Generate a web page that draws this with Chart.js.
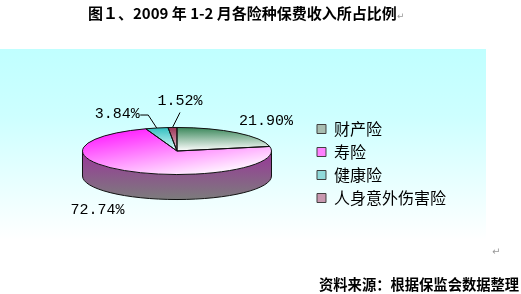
<!DOCTYPE html>
<html><head><meta charset="utf-8">
<script src="https://cdn.jsdelivr.net/npm/chart.js@4.4.0/dist/chart.umd.min.js"></script>
<style>
html,body{margin:0;padding:0;background:#fff;width:521px;height:294px;overflow:hidden;position:relative}
#c{position:absolute;left:0;top:0}
.t{position:absolute;white-space:nowrap;font-family:"Noto Sans CJK SC";font-weight:700;color:#000}
.pm{font-family:"DejaVu Sans";font-weight:400;font-size:9px;color:#999}
</style></head><body>
<canvas id="c" width="521" height="294"></canvas>
<div class="t" style="left:88px;top:3px;font-size:15px;line-height:20px">图１、2009 年 1-2 月各险种保费收入所占比例<span class="pm">↵</span></div>
<div class="t pm" style="left:492px;top:246px;font-size:10px">↵</div>
<div class="t" style="left:319px;top:274px;font-size:14.3px;line-height:20px">资料来源：根据保监会数据整理</div>
<script>
const categories = ['财产险', '寿险', '健康险', '人身意外伤害险'];
const shares = [21.90, 72.74, 3.84, 1.52];
const faceColors = [['#3a875a', '#ffffff'], ['#ff00ff', '#fff4ff'], ['#2fbfbf', '#e8ffff'], ['#993355', '#f0c8d8']];
const sideColors = [['#4a6a58', '#7a7a7a'], ['#9a359a', '#7c7c7c'], ['#309090', '#707070'], ['#803050', '#707070']];
const legendColors = ['#a8bdb0', '#ff80ff', '#90dada', '#c898b0'];

const TILT = 0.249, DEPTH = 25;
const LABEL_LAYOUT = [
  {dx: 29, dy: -11.5},
  {dx: -32.5, dy: 13.5, side: true},
  {dx: -39.5, dy: -13.5, leader: [[-8.5, -13], [-16.5, -13]]},
  {dx: 7.5, dy: -26.5, leader: [[7.5, -15]]}
];

function faceFill(chart, i) {
  const a = chart.chartArea;
  if (!a || i === undefined) return faceColors[i || 0][0];
  const cx = (a.left + a.right) / 2, cy = (a.top + a.bottom) / 2;
  const R = Math.min(a.right - a.left, a.bottom - a.top) / 2;
  const g = (i === 1)
    ? chart.ctx.createLinearGradient(cx - R, cy - R, cx + 0.3 * R, cy + R)
    : chart.ctx.createLinearGradient(cx, cy - R, cx, cy);
  g.addColorStop(0, faceColors[i][0]);
  g.addColorStop(1, faceColors[i][1]);
  return g;
}

const bgPlugin = {
  id: 'bg',
  beforeDraw(chart) {
    const ctx = chart.ctx;
    const g = ctx.createLinearGradient(0, 49, 0, 240);
    g.addColorStop(0, '#c0ffff');
    g.addColorStop(0.35, '#cdffff');
    g.addColorStop(1, '#ffffff');
    ctx.save();
    ctx.fillStyle = g;
    ctx.fillRect(0, 49, 486, 191);
    ctx.restore();
  }
};

const pie3d = {
  id: 'pie3d',
  beforeDatasetsDraw(chart) {
    const ctx = chart.ctx;
    const arcs = chart.getDatasetMeta(0).data;
    const {x: cx, y: cy, outerRadius: R} = arcs[0];
    const ry = R * TILT, top = cy - DEPTH / 2;
    ctx.save();
    arcs.forEach((arc, i) => {
      for (let k = -1; k <= 1; k++) {
        const lo = Math.max(arc.startAngle, 2 * Math.PI * k);
        const hi = Math.min(arc.endAngle, 2 * Math.PI * k + Math.PI);
        if (hi <= lo) continue;
        const g = ctx.createLinearGradient(0, top, 0, top + ry + DEPTH);
        g.addColorStop(0, sideColors[i][0]);
        g.addColorStop(1, sideColors[i][1]);
        ctx.beginPath();
        ctx.ellipse(cx, top, R, ry, 0, lo, hi);
        ctx.ellipse(cx, top + DEPTH, R, ry, 0, hi, lo, true);
        ctx.closePath();
        ctx.fillStyle = g;
        ctx.fill();
      }
    });
    // side outline
    ctx.strokeStyle = '#111';
    ctx.lineWidth = 1;
    ctx.beginPath();
    ctx.ellipse(cx, top + DEPTH, R, ry, 0, 0, Math.PI);
    ctx.moveTo(cx - R, top); ctx.lineTo(cx - R, top + DEPTH);
    ctx.moveTo(cx + R, top); ctx.lineTo(cx + R, top + DEPTH);
    ctx.stroke();
    ctx.restore();
    ctx.save();
    ctx.translate(cx, top);
    ctx.scale(1, TILT);
    ctx.translate(-cx, -cy);
  },
  afterDatasetsDraw(chart) {
    const ctx = chart.ctx;
    ctx.restore();
    const arcs = chart.getDatasetMeta(0).data;
    const {x: cx, y: cy, outerRadius: R} = arcs[0];
    const ry = R * TILT, top = cy - DEPTH / 2;
    ctx.save();
    ctx.strokeStyle = '#111';
    ctx.lineWidth = 1;
    arcs.forEach(arc => {
      ctx.beginPath();
      ctx.moveTo(cx, top);
      ctx.ellipse(cx, top, R, ry, 0, arc.startAngle, arc.endAngle);
      ctx.closePath();
      ctx.stroke();
    });
    ctx.font = '15px "Liberation Mono"';
    ctx.fillStyle = '#000';
    ctx.textAlign = 'center';
    ctx.textBaseline = 'middle';
    arcs.forEach((arc, i) => {
      const m = (arc.startAngle + arc.endAngle) / 2;
      const L = LABEL_LAYOUT[i];
      const ax = cx + R * Math.cos(m);
      const ay = top + ry * Math.sin(m) + (L.side ? DEPTH : 0);
      if (L.leader) {
        ctx.beginPath();
        ctx.moveTo(ax, ay);
        L.leader.forEach(p => ctx.lineTo(ax + p[0], ay + p[1]));
        ctx.strokeStyle = '#000';
        ctx.stroke();
      }
      ctx.fillText(shares[i].toFixed(2) + '%', ax + L.dx, ay + L.dy);
    });
    ctx.restore();
  }
};

new Chart(document.getElementById('c').getContext('2d'), {
  type: 'pie',
  data: {
    labels: categories,
    datasets: [{
      data: shares,
      backgroundColor: c => faceFill(c.chart, c.dataIndex),
      borderWidth: 0,
      clip: false
    }]
  },
  options: {
    responsive: false,
    animation: false,
    events: [],
    layout: {padding: {left: 44, right: 65, top: 69, bottom: 36}},
    plugins: {
      tooltip: {enabled: false},
      legend: {
        position: 'right',
        align: 'center',
        labels: {
          boxWidth: 9, boxHeight: 9, padding: 7, color: '#000',
          font: {family: '"Noto Sans CJK SC"', size: 16},
          generateLabels(chart) {
            const items = Chart.overrides.doughnut.plugins.legend.labels.generateLabels(chart);
            return items.map((it, i) => Object.assign(it, {fillStyle: legendColors[i], strokeStyle: '#404040', lineWidth: 1}));
          }
        }
      }
    }
  },
  plugins: [bgPlugin, pie3d]
});
</script>
</body></html>
